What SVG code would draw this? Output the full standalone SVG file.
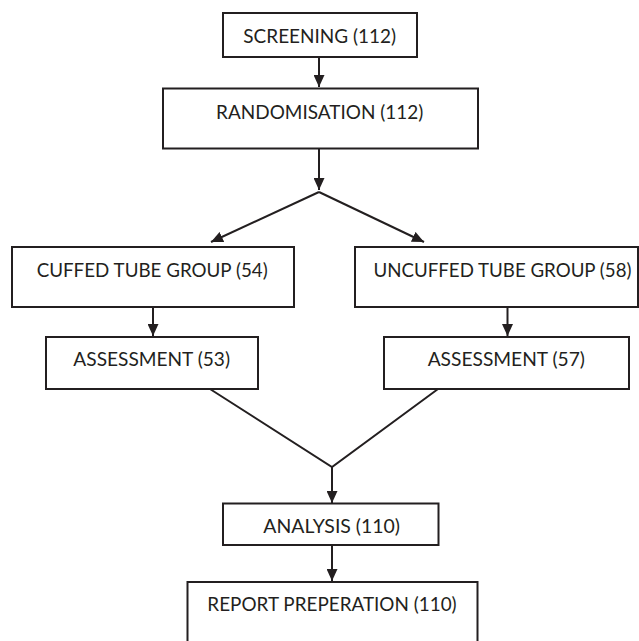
<svg xmlns="http://www.w3.org/2000/svg" width="639" height="641" viewBox="0 0 639 641">
<style>
.box{fill:#fff;stroke:#231f20;stroke-width:2}
.lbl{font-family:Lato,"Open Sans","Liberation Sans",sans-serif;font-size:19.5px;fill:#231f20;text-anchor:middle}
.con{fill:none;stroke:#231f20;stroke-width:2}
</style>
<defs>
<marker id="ah" viewBox="0 0 12 11" refX="12" refY="5.5" markerWidth="12" markerHeight="11" markerUnits="userSpaceOnUse" orient="auto">
<path d="M0,0 L12,5.5 L0,11 z" fill="#231f20"/>
</marker>
</defs>
<rect width="639" height="641" fill="#fff"/>
<g id="connectors">
<line class="con" x1="319" y1="57" x2="319" y2="87" marker-end="url(#ah)"/>
<line class="con" x1="319" y1="148.5" x2="319" y2="190" marker-end="url(#ah)"/>
<line class="con" x1="319" y1="192" x2="211" y2="242" marker-end="url(#ah)"/>
<line class="con" x1="319" y1="192" x2="424" y2="242" marker-end="url(#ah)"/>
<line class="con" x1="153" y1="307" x2="153" y2="336" marker-end="url(#ah)"/>
<line class="con" x1="507.5" y1="307" x2="507.5" y2="336" marker-end="url(#ah)"/>
<polyline class="con" points="210,389 332,467 438,389"/>
<line class="con" x1="332" y1="467" x2="332" y2="503" marker-end="url(#ah)"/>
<line class="con" x1="332" y1="545" x2="332" y2="581" marker-end="url(#ah)"/>
</g>
<g id="screening">
<rect class="box" x="223" y="13" width="194" height="44"/>
<text class="lbl" x="319.7" y="42.5" textLength="152.7" lengthAdjust="spacingAndGlyphs">SCREENING (112)</text>
</g>
<g id="randomisation">
<rect class="box" x="163" y="88.5" width="315" height="60"/>
<text class="lbl" x="319.7" y="118.5" textLength="207.3" lengthAdjust="spacingAndGlyphs">RANDOMISATION (112)</text>
</g>
<g id="cuffed">
<rect class="box" x="12" y="247" width="282" height="60"/>
<text class="lbl" x="152.2" y="276.7" textLength="231" lengthAdjust="spacingAndGlyphs">CUFFED TUBE GROUP (54)</text>
</g>
<g id="uncuffed">
<rect class="box" x="355" y="247" width="283" height="60"/>
<text class="lbl" x="502.5" y="276.7" textLength="258" lengthAdjust="spacingAndGlyphs">UNCUFFED TUBE GROUP (58)</text>
</g>
<g id="assessment-cuffed">
<rect class="box" x="46" y="337" width="212" height="52"/>
<text class="lbl" x="151.7" y="365.7" textLength="156.7" lengthAdjust="spacingAndGlyphs">ASSESSMENT (53)</text>
</g>
<g id="assessment-uncuffed">
<rect class="box" x="384" y="337" width="245" height="52"/>
<text class="lbl" x="506.3" y="365.7" textLength="157.3" lengthAdjust="spacingAndGlyphs">ASSESSMENT (57)</text>
</g>
<g id="analysis">
<rect class="box" x="223" y="503.5" width="215.5" height="41.5"/>
<text class="lbl" x="331.7" y="533.3" textLength="136.7" lengthAdjust="spacingAndGlyphs">ANALYSIS (110)</text>
</g>
<g id="report">
<rect class="box" x="187.5" y="582" width="290" height="70"/>
<text class="lbl" x="332" y="611" textLength="249.3" lengthAdjust="spacingAndGlyphs">REPORT PREPERATION (110)</text>
</g>
</svg>
